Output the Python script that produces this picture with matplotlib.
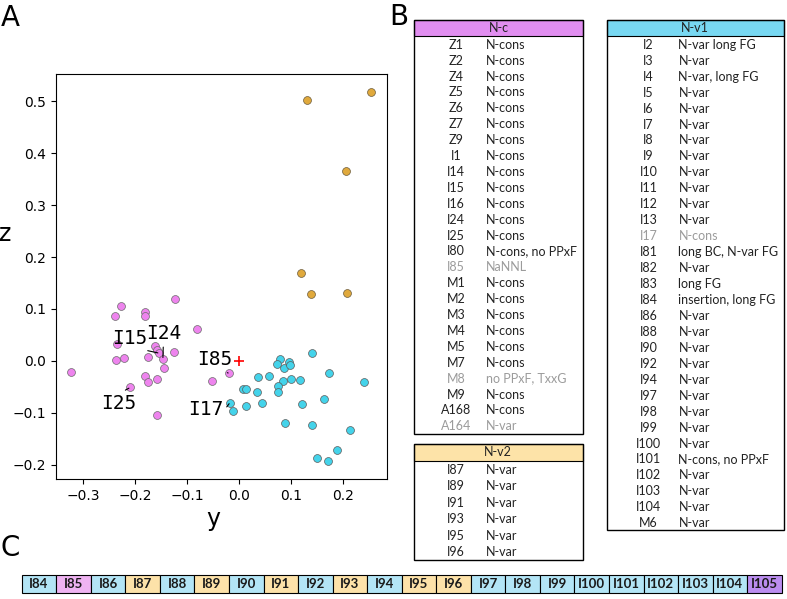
import matplotlib.pyplot as plt
from matplotlib.patches import Rectangle

# ---- panel A: projection coordinates ----
nc_y = [-0.324, -0.228, -0.240, -0.182, -0.182, -0.124, -0.082, -0.236, -0.237, -0.222,
        -0.176, -0.163, -0.158, -0.154, -0.147, -0.126, -0.144, -0.181, -0.176, -0.159,
        -0.210, -0.159, -0.053, -0.019]
nc_z = [-0.021, 0.106, 0.087, 0.095, 0.087, 0.120, 0.061, 0.032, 0.002, 0.005,
        0.007, 0.028, 0.021, 0.015, 0.004, 0.017, -0.013, -0.028, -0.040, -0.035,
        -0.051, -0.104, -0.039, -0.024]

nv1_y = [0.140, 0.078, 0.072, 0.086, 0.096, 0.097, 0.036, 0.057, 0.084, 0.100,
         0.116, 0.173, 0.240, 0.074, 0.074, 0.008, 0.012, 0.034, -0.018, -0.013,
         0.012, 0.044, 0.120, 0.162, 0.088, 0.140, 0.212, 0.188, 0.171, 0.150]
nv1_z = [0.016, 0.003, -0.005, -0.014, -0.002, -0.008, -0.031, -0.028, -0.038, -0.034,
         -0.037, -0.024, -0.040, -0.048, -0.059, -0.054, -0.053, -0.059, -0.080, -0.097,
         -0.086, -0.080, -0.082, -0.074, -0.119, -0.124, -0.132, -0.171, -0.192, -0.186]

nv2_y = [0.130, 0.253, 0.206, 0.119, 0.137, 0.208]
nv2_z = [0.502, 0.517, 0.365, 0.170, 0.128, 0.131]

# labelled points: (name, group, index into that group)
labelled = [("I15", "nc", 13), ("I24", "nc", 14), ("I85", "nc", 23),
            ("I17", "nv1", 18), ("I25", "nc", 20)]
label_pos = {"I15": (-0.210, 0.044), "I24": (-0.146, 0.053), "I85": (-0.047, 0.002),
             "I17": (-0.065, -0.094), "I25": (-0.231, -0.081)}
label_rel = {"I15": (0.6, 0.0), "I24": (0.5, 0.0), "I85": (0.6, 0.0),
             "I17": (1.0, 0.4), "I25": (0.5, 1.0)}

# ---- panel B: tables ----
nc_names = ["Z1", "Z2", "Z4", "Z5", "Z6", "Z7", "Z9", "I1", "I14", "I15", "I16", "I24", "I25",
            "I80", "I85", "M1", "M2", "M3", "M4", "M5", "M7", "M8", "M9", "A168", "A164"]
nc_notes = ["N-cons"] * 13 + ["N-cons, no PPxF", "NaNNL"] + ["N-cons"] * 6 + \
           ["no PPxF, TxxG", "N-cons", "N-cons", "N-var"]
nc_grey = ["I85", "M8", "A164"]

nv1_names = ["I2", "I3", "I4", "I5", "I6", "I7", "I8", "I9", "I10", "I11", "I12", "I13", "I17",
             "I81", "I82", "I83", "I84", "I86", "I88", "I90", "I92", "I94", "I97", "I98", "I99",
             "I100", "I101", "I102", "I103", "I104", "M6"]
nv1_notes = ["N-var long FG", "N-var", "N-var, long FG"] + ["N-var"] * 9 + \
            ["N-cons", "long BC, N-var FG", "N-var", "long FG", "insertion, long FG"] + \
            ["N-var"] * 9 + ["N-cons, no PPxF"] + ["N-var"] * 4
nv1_grey = ["I17"]

nv2_names = ["I87", "I89", "I91", "I93", "I95", "I96"]
nv2_notes = ["N-var"] * 6

# ---- panel C: strip ----
strip_labels = ["I%d" % i for i in range(84, 106)]
strip_groups = ["v1", "c", "v1", "v2", "v1", "v2", "v1", "v2", "v1", "v2", "v1", "v2", "v2",
                "v1", "v1", "v1", "v1", "v1", "v1", "v1", "v1", "x"]
strip_colors = {"v1": "#b3e5f6", "c": "#efb3f2", "v2": "#fde2a9", "x": "#bb8df0"}

W, H = 787, 599
fig = plt.figure(figsize=(W / 100, H / 100), dpi=100)

# scatter axes (pixel box 56..387 x 74..479)
ax = fig.add_axes([56 / W, (H - 479) / H, 331 / W, 405 / H])
ax.scatter(nc_y, nc_z, s=32, c="#ee84ee", edgecolors="#6a6a6a", linewidths=0.5, zorder=3)
ax.scatter(nv1_y, nv1_z, s=32, c="#44d3ea", edgecolors="#5a5a5a", linewidths=0.5, zorder=3)
ax.scatter(nv2_y, nv2_z, s=32, c="#e0a93c", edgecolors="#6a5a3a", linewidths=0.5, zorder=3)
ax.scatter([0], [0], marker="+", s=45, c="red", linewidths=1.2, zorder=4)

groups = {"nc": (nc_y, nc_z), "nv1": (nv1_y, nv1_z), "nv2": (nv2_y, nv2_z)}
for name, g, i in labelled:
    gy, gz = groups[g]
    ax.annotate(name, xy=(gy[i], gz[i]), xytext=label_pos[name], ha="center", va="center",
                fontsize=14, family="DejaVu Sans Mono", zorder=5,
                arrowprops=dict(arrowstyle="-", lw=0.8, color="black", shrinkA=1, shrinkB=1,
                                relpos=label_rel[name]))

ax.set_xlim(-0.3525, 0.284)
ax.set_ylim(-0.227, 0.552)
ax.set_xticks([-0.3, -0.2, -0.1, 0.0, 0.1, 0.2])
ax.set_yticks([-0.2, -0.1, 0.0, 0.1, 0.2, 0.3, 0.4, 0.5])
ax.tick_params(labelsize=10)
ax.set_xlabel("y", fontsize=17)
ax.set_ylabel("z", fontsize=17, rotation=0)
ax.xaxis.set_label_coords(0.475, -0.07)
ax.yaxis.set_label_coords(-0.155, 0.575)

# overlay in pixel coordinates for tables and strip
ov = fig.add_axes([0, 0, 1, 1])
ov.set_xlim(0, W)
ov.set_ylim(H, 0)
ov.axis("off")

tfont = dict(family=["Lato", "DejaVu Sans"], fontsize=9)


def draw_table(x0, x1, top, title, head_color, names, notes, grey, row_h, head_h=16.5):
    bottom = top + head_h + row_h * len(names)
    ov.add_patch(Rectangle((x0, top), x1 - x0, head_h, facecolor=head_color,
                           edgecolor="black", lw=0.8))
    ov.add_patch(Rectangle((x0, top), x1 - x0, bottom - top, fill=False,
                           edgecolor="black", lw=1.0))
    ov.text((x0 + x1) / 2, top + head_h / 2, title, ha="center", va="center",
            color="#222222", **tfont)
    for k, (n, d) in enumerate(zip(names, notes)):
        yc = top + head_h + row_h * (k + 0.55)
        col = "#9b9b9b" if n in grey else "#222222"
        ov.text(x0 + 42, yc, n, ha="center", va="center", color=col, **tfont)
        ov.text(x0 + 72, yc, d, ha="left", va="center", color=col, **tfont)


draw_table(414, 583, 19.5, "N-c", "#e18ef0", nc_names, nc_notes, nc_grey, row_h=15.9)
draw_table(606.5, 783.5, 19.5, "N-v1", "#78d8f2", nv1_names, nv1_notes, nv1_grey, row_h=15.95)
draw_table(413.5, 583, 444, "N-v2", "#fde3a8", nv2_names, nv2_notes, [], row_h=16.5)

# strip of panel C
sx0, sx1, stop, sbot = 21.7, 781.7, 575, 593.3
cw = (sx1 - sx0) / len(strip_labels)
for k, (lab, g) in enumerate(zip(strip_labels, strip_groups)):
    ov.add_patch(Rectangle((sx0 + k * cw, stop), cw, sbot - stop,
                           facecolor=strip_colors[g], edgecolor="black", lw=0.8))
    ov.text(sx0 + (k + 0.5) * cw, (stop + sbot) / 2, lab, ha="center", va="center",
            color="#1a1a1a", fontweight="bold", family=["Lato", "DejaVu Sans"], fontsize=9.5)

# panel letters
for letter, x, y in [("A", 1, 18), ("B", 389, 17), ("C", 1, 548)]:
    ov.text(x, y, letter, fontsize=20, ha="left", va="center")

fig.savefig("out.png", dpi=100)
